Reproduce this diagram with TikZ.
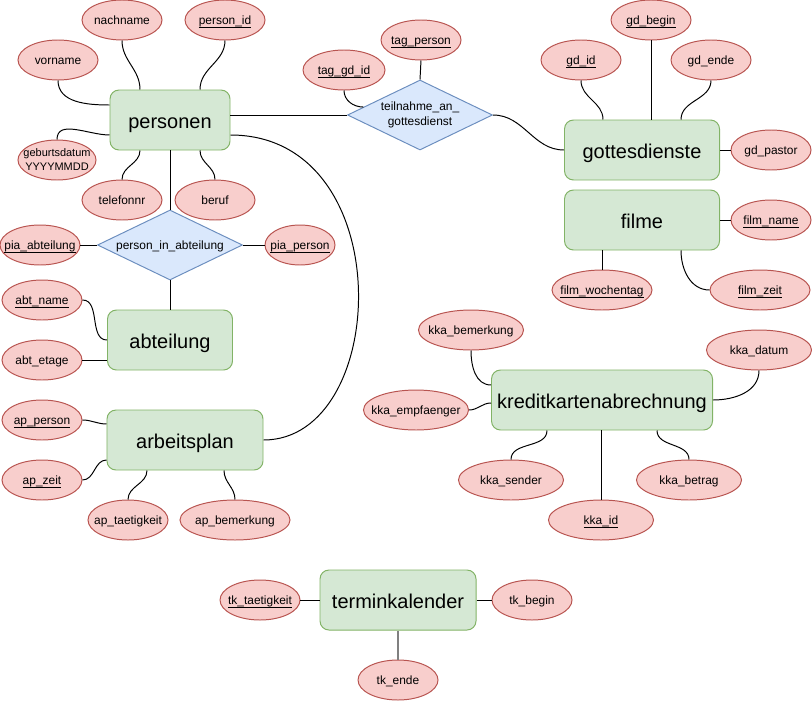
\documentclass[tikz,border=0pt]{standalone}
\usepackage{fontspec}
\setmainfont{Liberation Sans}
\usetikzlibrary{shapes.geometric}

\definecolor{entfill}{HTML}{D5E8D4}
\definecolor{entline}{HTML}{82B366}
\definecolor{attfill}{HTML}{F8CECC}
\definecolor{attline}{HTML}{B85450}
\definecolor{relfill}{HTML}{DAE8FC}
\definecolor{relline}{HTML}{6C8EBF}

% Text in Ellipsen ohne Einfluss auf die Knotengroesse
\newcommand{\lbl}[1]{\makebox[0pt]{#1}}
\newcommand{\pk}[1]{\makebox[0pt]{\underline{\raisebox{0pt}[\height][0pt]{#1}}}}

\begin{document}
\begin{tikzpicture}[
    x=0.25mm, y=-0.25mm,
    font=\fontsize{8.5}{10.2}\selectfont,
    entity/.style={rectangle, rounded corners=2.25mm, minimum height=15mm, inner sep=0pt, text height=14.8pt, text depth=3pt, draw=entline, fill=entfill, line width=0.7pt, font=\fontsize{14.2}{17}\selectfont},
    attr/.style={ellipse, minimum width=20mm, minimum height=10mm, inner sep=0pt, text height=8.6pt, text depth=1.5pt, draw=attline, fill=attfill, line width=0.7pt},
    rel/.style={diamond, aspect=2, minimum width=36.25mm, minimum height=17.5mm, inner sep=0pt, align=center, draw=relline, fill=relfill, line width=0.7pt},
    link/.style={line width=0.7pt}
  ]
  \useasboundingbox (0,0) rectangle (812,702);

  % Entitaeten
  \node (personen) [entity, minimum width=30mm] at (170,120) {personen};
  \node (abteilung) [entity, minimum width=31.25mm] at (170,340) {abteilung};
  \node (arbeitsplan) [entity, minimum width=39mm] at (185,440) {arbeitsplan};
  \node (gottesdienste) [entity, minimum width=38.75mm] at (642,150) {gottesdienste};
  \node (filme) [entity, minimum width=38.75mm] at (642,220) {filme};
  \node (kka) [entity, minimum width=55.25mm] at (602,400) {kreditkartenabrechnung};
  \node (terminkalender) [entity, minimum width=39mm] at (398,600) {terminkalender};

  % Beziehungen
  \node (pia) [rel, text height=8.6pt, text depth=1.5pt] at (170,245) {person\_in\_abteilung};
  \node (tag) [rel] at (420,115) {teilnahme\_an\_\\gottesdienst};

  % Attribute personen
  \node (nachname) [attr] at (122,20) {\lbl{nachname}};
  \node (person_id) [attr] at (225,20) {\pk{person\_id}};
  \node (vorname) [attr] at (58,60) {\lbl{vorname}};
  \node (geburtsdatum) [attr, minimum width=19.5mm, text height=, text depth=] at (57,160) {\lbl{\fontsize{7.8}{8.5}\selectfont\shortstack{geburtsdatum\\YYYYMMDD}}};
  \node (telefonnr) [attr] at (122,200) {\lbl{telefonnr}};
  \node (beruf) [attr] at (215,200) {\lbl{beruf}};

  % Attribute person_in_abteilung
  \node (pia_abteilung) [attr] at (40,245) {\pk{pia\_abteilung}};
  \node (pia_person) [attr, minimum width=17.5mm] at (300,245) {\pk{pia\_person}};

  % Attribute abteilung
  \node (abt_name) [attr] at (42,300) {\pk{abt\_name}};
  \node (abt_etage) [attr] at (42,360) {\lbl{abt\_etage}};

  % Attribute arbeitsplan
  \node (ap_person) [attr] at (42,420) {\pk{ap\_person}};
  \node (ap_zeit) [attr] at (42,480) {\pk{ap\_zeit}};
  \node (ap_taetigkeit) [attr] at (128,520) {\lbl{ap\_taetigkeit}};
  \node (ap_bemerkung) [attr, minimum width=27.5mm] at (235,520) {\lbl{ap\_bemerkung}};

  % Attribute teilnahme_an_gottesdienst
  \node (tag_gd_id) [attr, minimum width=20.5mm] at (344,70) {\pk{tag\_gd\_id}};
  \node (tag_person) [attr] at (421,40) {\pk{tag\_person}};

  % Attribute gottesdienste
  \node (gd_begin) [attr] at (651,20) {\pk{gd\_begin}};
  \node (gd_id) [attr] at (581,60) {\pk{gd\_id}};
  \node (gd_ende) [attr] at (711,60) {\lbl{gd\_ende}};
  \node (gd_pastor) [attr] at (771,150) {\lbl{gd\_pastor}};

  % Attribute filme
  \node (film_name) [attr] at (771,220) {\pk{film\_name}};
  \node (film_wochentag) [attr, minimum width=25mm] at (602,290) {\pk{film\_wochentag}};
  \node (film_zeit) [attr, minimum width=25mm] at (760,290) {\pk{film\_zeit}};

  % Attribute kreditkartenabrechnung
  \node (kka_bemerkung) [attr, minimum width=26.25mm] at (471,330) {\lbl{kka\_bemerkung}};
  \node (kka_datum) [attr, minimum width=26.25mm] at (759,350) {\lbl{kka\_datum}};
  \node (kka_empfaenger) [attr, minimum width=26.25mm] at (416,410) {\lbl{kka\_empfaenger}};
  \node (kka_sender) [attr, minimum width=26.25mm] at (511,480) {\lbl{kka\_sender}};
  \node (kka_betrag) [attr, minimum width=26.25mm] at (689,480) {\lbl{kka\_betrag}};
  \node (kka_id) [attr, minimum width=26.25mm] at (601,520) {\pk{kka\_id}};

  % Attribute terminkalender
  \node (tk_taetigkeit) [attr] at (260,600) {\pk{tk\_taetigkeit}};
  \node (tk_begin) [attr] at (532,600) {\lbl{tk\_begin}};
  \node (tk_ende) [attr] at (398,680) {\lbl{tk\_ende}};

  % Verbindungen personen
  \draw [link] (nachname.south) to[out=-90, in=90] ([xshift=-7.5mm]personen.north);
  \draw [link] (person_id.south) to[out=-90, in=90] ([xshift=7.5mm]personen.north);
  \draw [link] (vorname.south) to[out=-90, in=180] ([yshift=3.75mm]personen.west);
  \draw [link] (geburtsdatum.north) to[out=90, in=180] ([yshift=-3.75mm]personen.west);
  \draw [link] (telefonnr.north) to[out=90, in=-90] ([xshift=-7.5mm]personen.south);
  \draw [link] (beruf.north) to[out=90, in=-90] ([xshift=7.5mm]personen.south);

  % person_in_abteilung
  \draw [link] (personen.south) -- (pia.north);
  \draw [link] (pia_abteilung.east) -- (pia.west);
  \draw [link] (pia.east) -- (pia_person.west);
  \draw [link] (pia.south) -- (pia.south |- abteilung.north);

  % abteilung
  \draw [link] (abt_name.east) to[out=0, in=180] (abteilung.west);
  \draw [link] (abt_etage.east) -- (abt_etage.east -| abteilung.west);

  % arbeitsplan
  \draw [link] (ap_person.east) to[out=0, in=180] ([yshift=4mm]arbeitsplan.west);
  \draw [link] (ap_zeit.east) to[out=0, in=180] ([yshift=-5mm]arbeitsplan.west);
  \draw [link] (ap_taetigkeit.north) to[out=90, in=-90] ([xshift=-9.5mm]arbeitsplan.south);
  \draw [link] (ap_bemerkung.north) to[out=90, in=-90] ([xshift=9.75mm]arbeitsplan.south);
  \draw [link] ([yshift=-3.75mm]personen.east) .. controls +(170,0) and +(127,0) .. (arbeitsplan.east);

  % teilnahme_an_gottesdienst
  \draw [link] (personen.east |- tag.west) -- (tag.west);
  \draw [link] (tag_gd_id.south) to[out=-90, in=180] (tag.172);
  \draw [link] (tag_person.south) -- (tag.north);
  \draw [link] (tag.east) to[out=0, in=180] (gottesdienste.west);

  % gottesdienste
  \draw [link] (gd_id.south) to[out=-90, in=90] ([xshift=-9.75mm]gottesdienste.north);
  \draw [link] (gd_begin.south) -- (gd_begin.south |- gottesdienste.north);
  \draw [link] (gd_ende.south) to[out=-90, in=90] ([xshift=9.75mm]gottesdienste.north);
  \draw [link] (gottesdienste.east) -- (gd_pastor.west);

  % filme
  \draw [link] (filme.east) -- (film_name.west);
  \draw [link] (film_wochentag.north |- filme.south) -- (film_wochentag.north);
  \draw [link] ([xshift=9.75mm]filme.south) to[out=-90, in=180] (film_zeit.west);

  % kreditkartenabrechnung
  \draw [link] (kka_bemerkung.south) to[out=-90, in=180] ([yshift=3.75mm]kka.west);
  \draw [link] (kka_datum.south) to[out=-90, in=0] (kka.east);
  \draw [link] (kka_empfaenger.east) to[out=0, in=180] ([yshift=-0.75mm]kka.west);
  \draw [link] (kka_sender.north) to[out=90, in=-90] ([xshift=-13.75mm]kka.south);
  \draw [link] (kka_id.north) -- (kka_id.north |- kka.south);
  \draw [link] (kka_betrag.north) to[out=90, in=-90] ([xshift=13.75mm]kka.south);

  % terminkalender
  \draw [link] (tk_taetigkeit.east) -- (terminkalender.west);
  \draw [link] (terminkalender.east) -- (tk_begin.west);
  \draw [link, draw=gray, line width=1.4pt] (terminkalender.south) -- (tk_ende.north);

\end{tikzpicture}
\end{document}
